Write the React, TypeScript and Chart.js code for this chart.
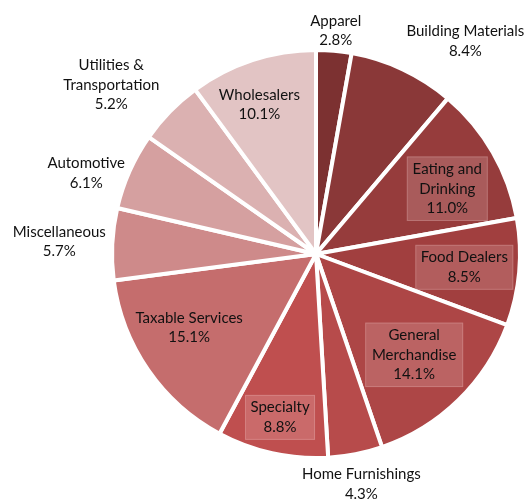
import React, { useEffect, useRef } from "react";
import { Chart, registerables } from "chart.js";
Chart.register(...registerables);

const categories = [
  ["Apparel"],
  ["Building Materials"],
  ["Eating and", "Drinking"],
  ["Food Dealers"],
  ["General", "Merchandise"],
  ["Home Furnishings"],
  ["Specialty"],
  ["Taxable Services"],
  ["Miscellaneous"],
  ["Automotive"],
  ["Utilities &", "Transportation"],
  ["Wholesalers"],
];
const shares = [2.8, 8.4, 11.0, 8.5, 14.1, 4.3, 8.8, 15.1, 5.7, 6.1, 5.2, 10.1];
const colors = [
  "#7c3131", "#8a3838", "#963c3c", "#a13f3f", "#ad4646", "#b74b4b",
  "#bf4f4f", "#c56d6d", "#ce8a8a", "#d5a0a0", "#dbb1b1", "#e2c4c4",
];
// label placement: radial factor k, pixel nudge dx, dy, box width (0 = no box)
const labelK = [1.1, 1.18, 0.72, 0.73, 0.69, 1.15, 0.82, 0.72, 1.26, 1.19, 1.3, 0.78];
const labelDX = [0, 47, 4, 0, 0, 0, 0, -6, 0, -8, -15, -7];
const labelDY = [0, 5, 8, 0, 0, 0, 0, -10, 0, 18, 16, 2];
const labelBox = [0, 0, 81, 98, 98, 0, 70, 0, 0, 0, 0, 0];

const FONT = "15px Lato, 'Open Sans', sans-serif";
const LINE_H = 19.5;

const labelPlugin = {
  id: "pieLabels",
  afterDatasetsDraw(chart: any) {
    const ctx = chart.ctx;
    const meta = chart.getDatasetMeta(0);
    ctx.save();
    ctx.font = FONT;
    ctx.textAlign = "center";
    ctx.textBaseline = "middle";
    meta.data.forEach((arc: any, i: number) => {
      const p = arc.getProps(["x", "y", "startAngle", "endAngle", "outerRadius"], true);
      const mid = (p.startAngle + p.endAngle) / 2;
      const d = p.outerRadius * labelK[i];
      const cx = p.x + Math.cos(mid) * d + labelDX[i];
      const cy = p.y + Math.sin(mid) * d + labelDY[i];
      const lines = [...categories[i], shares[i].toFixed(1) + "%"];
      const h = lines.length * LINE_H;
      if (labelBox[i]) {
        const bw = labelBox[i];
        const bh = h + 6;
        ctx.fillStyle = "rgba(255,235,235,0.18)";
        ctx.fillRect(cx - bw / 2, cy - bh / 2, bw, bh);
        ctx.strokeStyle = "rgba(255,220,220,0.22)";
        ctx.lineWidth = 1;
        ctx.strokeRect(cx - bw / 2 + 0.5, cy - bh / 2 + 0.5, bw - 1, bh - 1);
      }
      ctx.fillStyle = "#111111";
      lines.forEach((t, j) => {
        ctx.fillText(t, cx, cy - h / 2 + LINE_H * (j + 0.5));
      });
    });
    ctx.restore();
  },
};

export default function App() {
  const ref = useRef<HTMLCanvasElement>(null);
  useEffect(() => {
    if (!ref.current) return;
    const chart = new Chart(ref.current, {
      type: "pie",
      data: {
        labels: categories.map((c) => c.join(" ")),
        datasets: [
          {
            data: shares,
            backgroundColor: colors,
            borderColor: "#ffffff",
            borderWidth: 4,
          },
        ],
      },
      options: {
        animation: false,
        responsive: false,
        maintainAspectRatio: false,
        layout: { padding: { left: 108, right: 5, top: 48, bottom: 41 } },
        plugins: {
          legend: { display: false },
          tooltip: { enabled: false },
        },
      },
      plugins: [labelPlugin],
    });
    return () => chart.destroy();
  }, []);
  return (
    <div style={{ position: "absolute", left: 0, top: 0, width: 529, height: 501, background: "#fff" }}>
      <canvas ref={ref} width={529} height={501} style={{ width: 529, height: 501 }} />
    </div>
  );
}
